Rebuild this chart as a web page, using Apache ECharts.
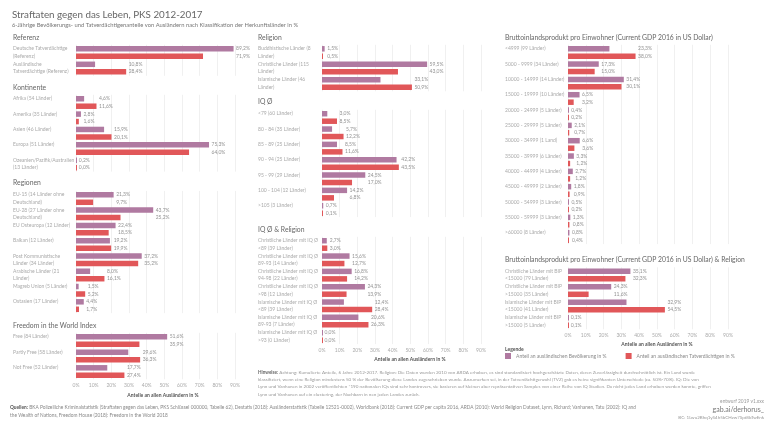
<!DOCTYPE html>
<html><head><meta charset="utf-8">
<script src="https://cdn.jsdelivr.net/npm/echarts@6/dist/echarts.min.js"></script>
<style>html,body{margin:0;padding:0;background:#fff}#c{width:768px;height:432px}</style>
</head><body><div id="c"></div>
<script>
// ---- data ----
const referenzCats = ['Deutsche Tatverdächtige\n(Referenz)', 'Ausländische\nTatverdächtige (Referenz)'];
const referenzPop = [89.2, 10.8];
const referenzTv = [71.9, 28.4];

const kontinenteCats = ['Afrika (54 Länder)', 'Amerika (35 Länder)', 'Asien (46 Länder)', 'Europa (51 Länder)', 'Ozeanien/Pazifik/Australien\n(13 Länder)'];
const kontinentePop = [4.6, 2.8, 15.9, 75.3, 0.2];
const kontinenteTv = [11.6, 1.6, 20.1, 64.0, 0.0];

const regionenCats = ['EU-15 (14 Länder ohne\nDeutschland)', 'EU-28 (27 Länder ohne\nDeutschland)', 'EU Osteuropa (12 Länder)', 'Balkan (12 Länder)', 'Post Kommunistische\nLänder (34 Länder)', 'Arabische Länder (21\nLänder)', 'Magreb Union (5 Länder)', 'Ostasien (17 Länder)'];
const regionenPop = [21.3, 43.7, 22.4, 19.2, 37.2, 8.0, 1.5, 4.4];
const regionenTv = [9.7, 25.2, 18.5, 19.9, 35.2, 16.1, 5.2, 1.7];

const freedomCats = ['Free (84 Länder)', 'Partly Free (58 Länder)', 'Not Free (52 Länder)'];
const freedomPop = [51.6, 29.6, 17.7];
const freedomTv = [35.9, 36.3, 27.4];

const religionCats = ['Buddhistische Länder (8\nLänder)', 'Christliche Länder (115\nLänder)', 'Islamische Länder (46\nLänder)'];
const religionPop = [1.5, 59.5, 33.1];
const religionTv = [0.5, 43.0, 50.9];

const iqCats = ['<79 (60 Länder)', '80 - 84 (35 Länder)', '85 - 89 (25 Länder)', '90 - 94 (25 Länder)', '95 - 99 (29 Länder)', '100 - 104 (12 Länder)', '>105 (3 Länder)'];
const iqPop = [3.0, 5.7, 8.5, 42.2, 24.5, 14.2, 0.7];
const iqTv = [8.5, 12.2, 11.6, 43.5, 17.0, 6.8, 0.1];

const iqRelCats = ['Christliche Länder mit IQ Ø\n<89 (39 Länder)', 'Christliche Länder mit IQ Ø\n89-93 (14 Länder)', 'Christliche Länder mit IQ Ø\n94-98 (22 Länder)', 'Christliche Länder mit IQ Ø\n>98 (12 Länder)', 'Islamische Länder mit IQ Ø\n<89 (39 Länder)', 'Islamische Länder mit IQ Ø\n89-93 (7 Länder)', 'Islamische Länder mit IQ Ø\n>93 (0 Länder)'];
const iqRelPop = [2.7, 15.6, 16.8, 24.3, 12.4, 20.6, 0.0];
const iqRelTv = [3.0, 12.7, 14.2, 13.9, 28.4, 26.3, 0.0];

const gdpCats = ['<4999 (99 Länder)', '5000 - 9999 (34 Länder)', '10000 - 14999 (14 Länder)', '15000 - 19999 (10 Länder)', '20000 - 24999 (5 Länder)', '25000 - 29999 (5 Länder)', '30000 - 34999 (1 Land)', '35000 - 39999 (6 Länder)', '40000 - 44999 (4 Länder)', '45000 - 49999 (2 Länder)', '50000 - 54999 (3 Länder)', '55000 - 59999 (3 Länder)', '>60000 (8 Länder)'];
const gdpPop = [23.3, 17.3, 31.4, 6.5, 0.4, 2.1, 6.6, 3.3, 2.7, 1.8, 0.5, 1.3, 0.8];
const gdpTv = [38.0, 15.0, 30.1, 3.2, 0.2, 0.7, 3.6, 1.2, 1.2, 0.9, 0.2, 0.8, 0.4];

const gdpRelCats = ['Christliche Länder mit BIP\n<15000 (79 Länder)', 'Christliche Länder mit BIP\n>15000 (35 Länder)', 'Islamische Länder mit BIP\n<15000 (41 Länder)', 'Islamische Länder mit BIP\n>15000 (5 Länder)'];
const gdpRelPop = [35.1, 24.3, 32.9, 0.1];
const gdpRelTv = [32.3, 11.6, 54.5, 0.1];

const POP_NAME = 'Anteil an ausländischen Bevölkerung in %';
const TV_NAME = 'Anteil an ausländischen Tatverdächtigen in %';
const AXIS_TITLE = 'Anteile an allen Ausländern in %';

// ---- layout ----
const FONT = 'Lato';
const PURPLE = '#b07aa1', RED = '#e15759';
const panels = [
  {title:'Referenz', cats:referenzCats, pop:referenzPop, tv:referenzTv, left:76, width:159, top:44.8, height:31, lx:13, hy:38, axis:false},
  {title:'Kontinente', cats:kontinenteCats, pop:kontinentePop, tv:kontinenteTv, left:76, width:159, top:94.8, height:76.8, lx:13, hy:88, axis:false},
  {title:'Regionen', cats:regionenCats, pop:regionenPop, tv:regionenTv, left:76, width:159, top:190.9, height:122.3, lx:13, hy:183, axis:false},
  {title:'Freedom in the World Index', cats:freedomCats, pop:freedomPop, tv:freedomTv, left:76, width:159, top:332.8, height:46.5, lx:13, hy:326, axis:true},
  {title:'Religion', cats:religionCats, pop:religionPop, tv:religionTv, left:322, width:159, top:44.8, height:46.5, lx:258, hy:38, axis:false},
  {title:'IQ Ø', cats:iqCats, pop:iqPop, tv:iqTv, left:322, width:159, top:109.8, height:107.3, lx:258, hy:102, axis:false},
  {title:'IQ Ø & Religion', cats:iqRelCats, pop:iqRelPop, tv:iqRelTv, left:322, width:159, top:236.8, height:107.3, lx:258, hy:230, axis:true},
  {title:'Bruttoinlandsprodukt pro Einwohner (Current GDP 2016 in US Dollar)', cats:gdpCats, pop:gdpPop, tv:gdpTv, left:568, width:160, top:44.8, height:199.3, lx:505, hy:38, axis:false},
  {title:'Bruttoinlandsprodukt pro Einwohner (Current GDP 2016 in US Dollar) & Religion', cats:gdpRelCats, pop:gdpRelPop, tv:gdpRelTv, left:568, width:160, top:267.3, height:62, lx:505, hy:260, axis:true}
];

const fmt = v => v.toFixed(1).replace('.', ',') + '%';
const grid = [], xAxis = [], yAxis = [], series = [], graphic = [];

panels.forEach((p, i) => {
  grid.push({left:p.left, width:p.width, top:p.top, height:p.height});
  xAxis.push({type:'value', gridIndex:i, min:0, max:90, interval:10,
    splitLine:{show:true, lineStyle:{color:'#f0f0f0', width:1}},
    axisLine:{show:false}, axisTick:{show:false},
    axisLabel:{show:p.axis, formatter:'{value}%', fontSize:5, color:'#aaa', margin:4, fontFamily:FONT}});
  yAxis.push({type:'category', gridIndex:i, inverse:true, data:p.cats,
    axisLine:{show:false}, axisTick:{show:false}, splitLine:{show:false},
    axisLabel:{align:'left', margin:p.left - p.lx, fontSize:5, lineHeight:7.5, color:'#aaa', fontFamily:FONT,
      formatter: s => s.indexOf('\n') >= 0 ? s : s + '\n\u00a0'}});
  series.push({type:'bar', name:POP_NAME, xAxisIndex:i, yAxisIndex:i, data:p.pop, barWidth:5.5, barGap:'36%', barMinHeight:1,
    itemStyle:{color:PURPLE}, silent:true, animation:false});
  series.push({type:'bar', name:TV_NAME, xAxisIndex:i, yAxisIndex:i, data:p.tv, barWidth:5.5, barGap:'36%', barMinHeight:1,
    itemStyle:{color:RED}, silent:true, animation:false});
  series.push({type:'scatter', name:'lbl' + i, xAxisIndex:i, yAxisIndex:i, silent:true, animation:false, z:5,
    data:p.pop.map((v, j) => [Math.max(v, p.tv[j]), j]),
    symbolSize:1, itemStyle:{color:'rgba(0,0,0,0)'},
    label:{show:true, position:'right', distance:2, fontSize:5, lineHeight:7.5, color:'#777', fontFamily:FONT,
      formatter: prm => fmt(p.pop[prm.dataIndex]) + '\n' + fmt(p.tv[prm.dataIndex])}});
  graphic.push({type:'text', x:p.lx, y:p.hy, silent:true,
    style:{text:p.title, fontSize:6.8, fill:'#666', fontFamily:FONT, verticalAlign:'middle'}});
});

const txt = (x, y, text, size, fill, extra) => Object.assign({type:'text', x:x, y:y, silent:true,
  style:Object.assign({text:text, fontSize:size, fill:fill, fontFamily:FONT, verticalAlign:'middle'}, extra || {})});

graphic.push(txt(12, 15, 'Straftaten gegen das Leben, PKS 2012-2017', 9.8, '#666'));
graphic.push(txt(12, 25.5, '6-Jährige Bevölkerungs- und Tatverdächtigenanteile von Ausländern nach Klassifikation der Herkunftsländer in %', 5.8, '#777'));
graphic.push(txt(163, 395, AXIS_TITLE, 5, '#555', {align:'center', fontWeight:'bold'}));
graphic.push(txt(410, 359, AXIS_TITLE, 5, '#555', {align:'center', fontWeight:'bold'}));
graphic.push(txt(657, 344, AXIS_TITLE, 5, '#555', {align:'center', fontWeight:'bold'}));
graphic.push(txt(505, 349.5, 'Legende', 5, '#555', {fontWeight:'bold'}));

const notes = [
  '{b|Hinweise:} Achtung: Kumulierte Anteile, 6 Jahre 2012-2017. Religion: Die Daten wurden 2010 von ARDA erhoben, es sind standardisiert hochgeschätzte Daten, deren Zuverlässigkeit durchschnittlich ist. Ein Land wurde',
  'klassifiziert, wenn eine Religion mindestens 50 % der Bevölkerung diese Landes zugeschrieben wurde. Anzumerken sei, in der Tatverdächtigenzahl (TVZ) gab es keine signifikanten Unterschiede (ca. 50%-70%). IQ: Die von',
  'Lynn und Vanhanen in 2002 veröffentlichten *190 nationalen IQs sind sehr kontrovers, sie basieren auf kleinen aber repräsentativen Samples von einer Reihe von IQ Studien. Da nicht jedes Land erhoben werden konnte, griffen',
  'Lynn und Vanhanen auf ein clustering, der Nachbarn in nen jeden Landes zurück.'
];
graphic.push({type:'text', x:258, y:368.5, silent:true,
  style:{text:notes.join('\n'), fontSize:4.6, lineHeight:7.4, fill:'#999', fontFamily:FONT,
    rich:{b:{fontSize:4.6, fontWeight:'bold', fill:'#666', fontFamily:FONT}}}});

const sources = [
  '{b|Quellen:} BKA Polizeiliche Kriminalstatistik (Straftaten gegen das Leben, PKS Schlüssel 000000, Tabelle 62), Destatis (2018): Ausländerstatistik (Tabelle 12521-0002), Worldbank (2018): Current GDP per capita 2016, ARDA (2010): World Religion Dataset, Lynn, Richard; Vanhanen, Tatu (2002): IQ and',
  'the Wealth of Nations, Freedom House (2018): Freedom in the World 2018'
];
graphic.push({type:'text', x:10, y:403.5, silent:true,
  style:{text:sources.join('\n'), fontSize:4.8, lineHeight:7.8, fill:'#888', fontFamily:FONT,
    rich:{b:{fontSize:4.8, fontWeight:'bold', fill:'#555', fontFamily:FONT}}}});
graphic.push(txt(764, 401, 'entwurf 2019 v1.xxx', 4.8, '#999', {align:'right'}));
graphic.push(txt(764, 409.5, 'gab.ai/derhorus_', 7, '#777', {align:'right'}));
graphic.push(txt(764, 418, 'BC: 1Lwu2Bhq1yS4h5bCHzw7Spt8bTwEnk', 4.5, '#999', {align:'right'}));

const chart = echarts.init(document.getElementById('c'), null, {renderer:'canvas'});
chart.setOption({
  animation:false,
  backgroundColor:'#fff',
  textStyle:{fontFamily:FONT},
  grid, xAxis, yAxis, series, graphic,
  legend:{data:[POP_NAME, TV_NAME], left:505, top:353, itemWidth:6, itemHeight:6, itemGap:19, icon:'rect', padding:0,
    textStyle:{fontSize:5, color:'#888', fontFamily:FONT}, selectedMode:false}
});
</script>
</body></html>
